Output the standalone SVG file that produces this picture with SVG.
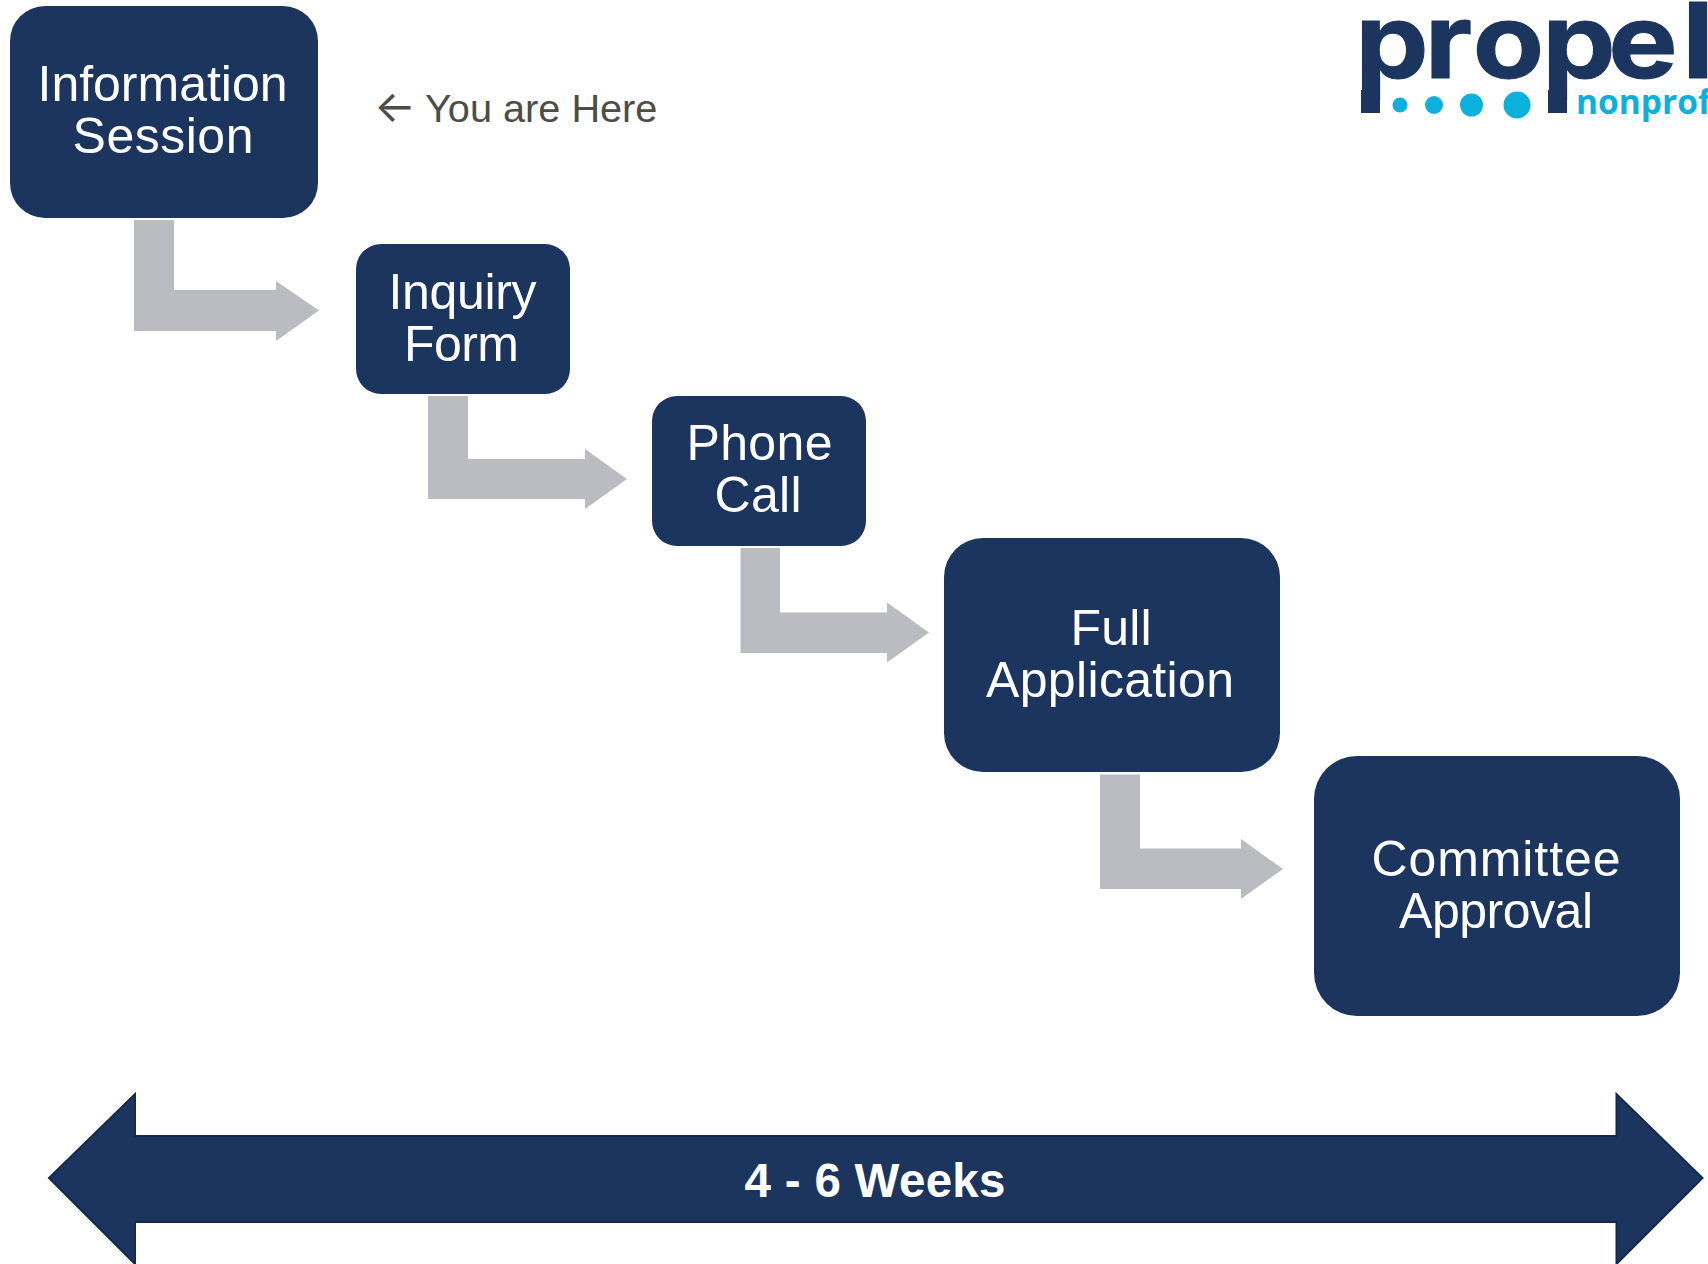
<svg xmlns="http://www.w3.org/2000/svg" width="1708" height="1264" viewBox="0 0 1708 1264">
<style>
.box{fill:#1c355e}
.lbl{font-family:"Liberation Sans",Arial,sans-serif;font-size:50px;fill:#fff;text-anchor:middle}
.bent{fill:#bbbcc1}
.dot{fill:#0cb0dc}
.ink{fill:#1c355e}
.logo{font-family:Inter,sans-serif;font-weight:700;font-size:104px;fill:#1c355e;stroke:#1c355e;stroke-width:1}
.sub{font-family:"Open Sans",sans-serif;font-weight:700;font-size:33.500px;fill:#0cb0dc}
</style>
<rect width="1708" height="1264" fill="#fff"/>
<g id="connectors">
<polygon class="bent" points="134,220 174,220 174,290 276,290 276,281 319,310.500 276,341 276,331 134,331"/>
<polygon class="bent" points="428,396 468,396 468,459 585,459 585,449 627,479 585,509 585,499 428,499"/>
<polygon class="bent" points="740.500,548 780,548 780,612.500 887,612.500 887,602.500 929,632.500 887,662.500 887,653 740.500,653"/>
<polygon class="bent" points="1100,774.500 1140,774.500 1140,848.500 1241,848.500 1241,839 1283,869 1241,899 1241,889 1100,889"/>
</g>
<g id="info-session">
<rect class="box" x="10" y="6" width="308" height="212" rx="35"/>
<text class="lbl" x="162.500" y="101" textLength="250">Information</text>
<text class="lbl" x="163" y="153" textLength="181">Session</text>
</g>
<g id="inquiry-form">
<rect class="box" x="356" y="244" width="214" height="150" rx="25"/>
<text class="lbl" x="462.500" y="309" textLength="148">Inquiry</text>
<text class="lbl" x="461.500" y="361" textLength="115">Form</text>
</g>
<g id="phone-call">
<rect class="box" x="652" y="396" width="214" height="150" rx="25"/>
<text class="lbl" x="759.500" y="460" textLength="146">Phone</text>
<text class="lbl" x="758" y="512" textLength="87">Call</text>
</g>
<g id="full-application">
<rect class="box" x="944" y="538" width="336" height="234" rx="39"/>
<text class="lbl" x="1111" y="645" textLength="81">Full</text>
<text class="lbl" x="1110" y="697" textLength="248">Application</text>
</g>
<g id="committee-approval">
<rect class="box" x="1314" y="756" width="366" height="260" rx="43"/>
<text class="lbl" x="1496" y="876" textLength="249">Committee</text>
<text class="lbl" x="1496" y="928" textLength="194">Approval</text>
</g>
<g id="you-are-here">
<text y="122" font-family="'Liberation Sans',Arial,sans-serif" font-size="39.700" fill="#4d4d45"><tspan x="374" font-family="Inter,sans-serif" font-size="44">←</tspan> <tspan x="425">You are Here</tspan></text>
</g>
<g id="timeline">
<polygon points="49,1178 135,1094 135,1136 1616.500,1136 1616.500,1094 1702.500,1178 1616.500,1264 1616.500,1222 135,1222 135,1264" fill="#1c355e" stroke="#14294b" stroke-width="2"/>
<text x="875" y="1197" font-family="'Liberation Sans',Arial,sans-serif" font-size="47.500" font-weight="700" fill="#fff" text-anchor="middle" textLength="261">4 - 6 Weeks</text>
</g>
<g id="logo">
<rect class="ink" x="1361" y="90" width="19" height="23"/>
<rect class="ink" x="1548" y="90" width="19" height="23"/>
<text class="logo" transform="translate(0,78) scale(1.12,1)" x="1210 1272 1315 1377 1436 1502" y="0">propel</text>
<circle class="dot" cx="1400" cy="105" r="7.500"/>
<circle class="dot" cx="1434" cy="105" r="9"/>
<circle class="dot" cx="1471.500" cy="105" r="11.500"/>
<circle class="dot" cx="1517" cy="105" r="13.500"/>
<text class="sub" x="1576" y="114">nonprof</text>
</g>
</svg>
